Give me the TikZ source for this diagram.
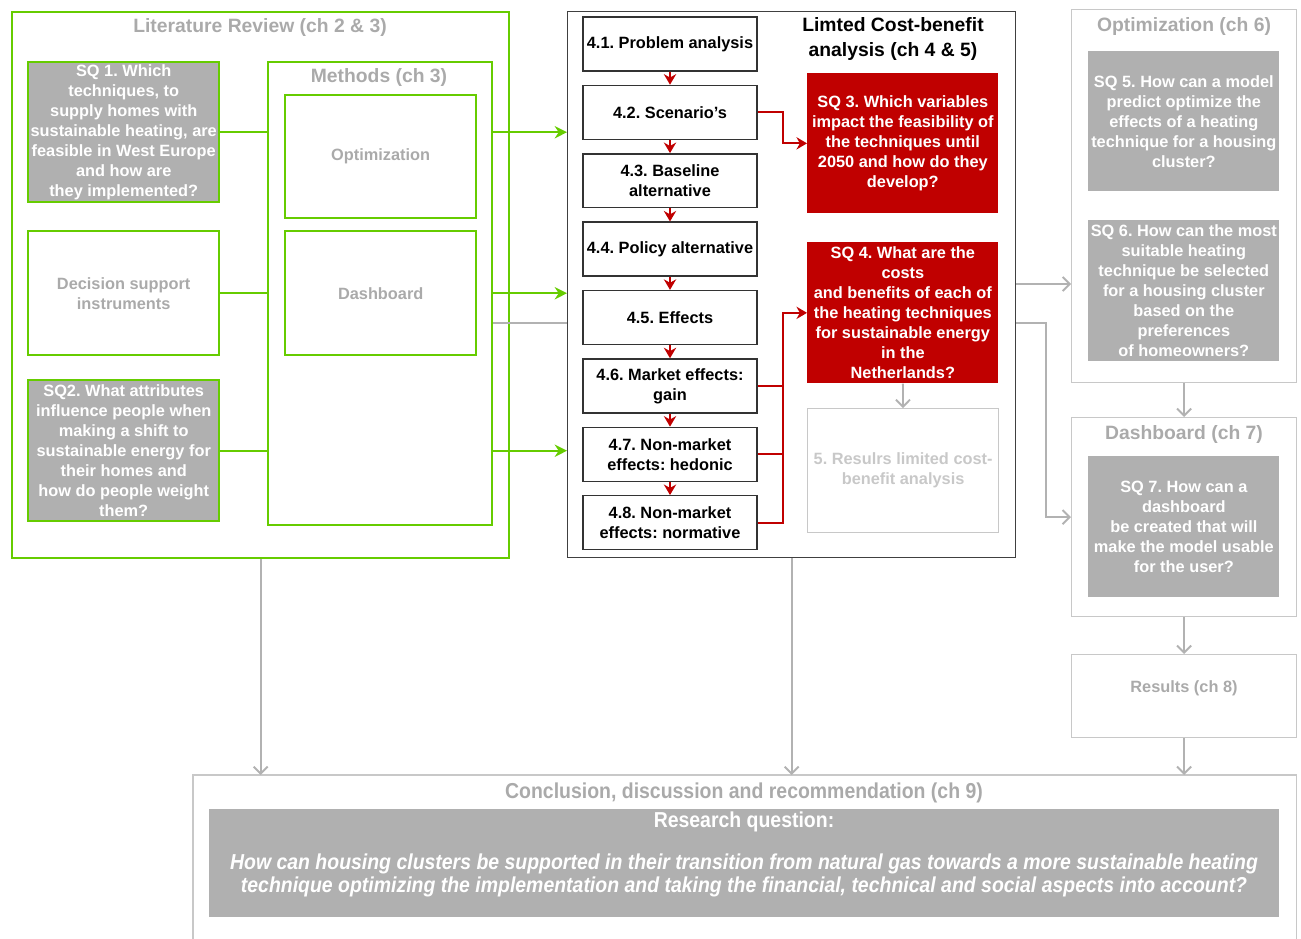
\documentclass[tikz,border=0pt]{standalone}
\usepackage{fontspec}
\setmainfont{Liberation Sans}
\newfontfamily\narrowsans[FakeStretch=0.9]{Liberation Sans}
\usetikzlibrary{arrows.meta,positioning}
\frenchspacing

\definecolor{litgreen}{RGB}{102,204,0}
\definecolor{sqgray}{RGB}{176,176,176}
\definecolor{titlegray}{RGB}{170,170,170}
\definecolor{faintgray}{RGB}{200,200,200}
\definecolor{framegray}{RGB}{200,200,200}
\definecolor{linegray}{RGB}{178,178,178}
\definecolor{cbared}{RGB}{192,0,0}
\definecolor{stepline}{RGB}{51,51,51}
\definecolor{cbaline}{RGB}{64,64,64}

\newcommand{\sqfont}{\fontsize{9.3}{11.4}\selectfont\bfseries}
\newcommand{\headfont}{\fontsize{11}{13.7}\selectfont\bfseries}
\newcommand{\rqfont}{\narrowsans\fontsize{12.3}{13}\selectfont\bfseries}

\begin{document}
\begin{tikzpicture}[
  x=0.02cm, y=-0.02cm,
  node distance=0.26cm,
  every node/.style={inner sep=1pt},
  greenframe/.style={draw=litgreen, line width=1.4pt, anchor=north west},
  grayframe/.style={draw=framegray, line width=0.7pt, anchor=north west},
  sqbox/.style={fill=sqgray, text=white, font=\sqfont, align=center, anchor=north west, minimum width=3.82cm},
  sqred/.style={fill=cbared, text=white, font=\sqfont, align=center, anchor=north west, minimum width=3.82cm},
  stepbox/.style={draw=stepline, line width=0.8pt, fill=white, font=\sqfont, align=center, minimum width=3.48cm, minimum height=1.08cm},
  head/.style={font=\headfont, text=titlegray, align=center},
  ghost/.style={font=\sqfont, text=titlegray, align=center},
  greenline/.style={draw=litgreen, line width=1.4pt},
  greenarrow/.style={greenline, -{Stealth[length=7pt,width=7pt]}},
  redline/.style={draw=cbared, line width=1.1pt},
  redarrow/.style={redline, -{Stealth[length=6pt,width=7pt]}},
  grayline/.style={draw=linegray, line width=1.1pt},
  grayarrow/.style={grayline, -{Straight Barb[length=4pt,width=8pt]}}
]
\useasboundingbox (0,0) rectangle (1301,938);

% literature review
\node[greenframe, minimum width=9.94cm, minimum height=10.92cm] (lit) at (11,11) {};
\node[head] at (260,27) {Literature Review (ch 2 \& 3)};
\node[sqbox, draw=litgreen, line width=1.4pt, minimum height=2.8cm] (sq1) at (27,61)
  {SQ 1. Which\\techniques, to\\supply homes with\\sustainable heating, are\\feasible in West Europe\\and how are\\they implemented?};
\node[greenframe, ghost, minimum width=3.82cm, minimum height=2.48cm] (dsi) at (27,230)
  {Decision support\\instruments};
\node[sqbox, draw=litgreen, line width=1.4pt, minimum height=2.82cm] (sq2) at (27,379)
  {SQ2. What attributes\\influence people when\\making a shift to\\sustainable energy for\\their homes and\\how do people weight\\them?};

% methods
\node[greenframe, minimum width=4.48cm, minimum height=9.26cm] (methods) at (267,61) {};
\node[head] at (379,77) {Methods (ch 3)};
\node[greenframe, ghost, minimum width=3.82cm, minimum height=2.46cm] (mopt) at (284,94) {Optimization};
\node[greenframe, ghost, minimum width=3.82cm, minimum height=2.48cm] (mdash) at (284,230) {Dashboard};

% cost-benefit analysis
\node[draw=cbaline, line width=0.8pt, anchor=north west, minimum width=8.96cm, minimum height=10.92cm] (cba) at (567,11) {};
\node[font=\headfont, align=center] at (893,39) {Limted Cost-benefit\\analysis (ch 4 \& 5)};

\node[stepbox] (s41) at (670,44) {4.1. Problem analysis};
\node[stepbox, below=of s41] (s42) {4.2. Scenario's};
\node[stepbox, below=of s42] (s43) {4.3. Baseline\\alternative};
\node[stepbox, below=of s43] (s44) {4.4. Policy alternative};
\node[stepbox, below=of s44] (s45) {4.5. Effects};
\node[stepbox, below=of s45] (s46) {4.6. Market effects:\\gain};
\node[stepbox, below=of s46] (s47) {4.7. Non-market\\effects: hedonic};
\node[stepbox, below=of s47] (s48) {4.8. Non-market\\effects: normative};

\node[sqred, minimum height=2.8cm] (sq3) at (807,73)
  {SQ 3. Which variables\\impact the feasibility of\\the techniques until\\2050 and how do they\\develop?};
\node[sqred, minimum height=2.82cm] (sq4) at (807,242)
  {SQ 4. What are the\\costs\\and benefits of each of\\the heating techniques\\for sustainable energy\\in the\\Netherlands?};
\node[grayframe, font=\sqfont, text=faintgray, align=center, minimum width=3.82cm, minimum height=2.48cm] (res5) at (807,408)
  {5. Resulrs limited cost-\\benefit analysis};

% optimization, dashboard, results
\node[grayframe, minimum width=4.5cm, minimum height=7.46cm] (optframe) at (1071,9) {};
\node[head] at (1184,26) {Optimization (ch 6)};
\node[sqbox, minimum height=2.8cm] (sq5) at (1088,51)
  {SQ 5. How can a model\\predict optimize the\\effects of a heating\\technique for a housing\\cluster?};
\node[sqbox, minimum height=2.82cm] (sq6) at (1088,220)
  {SQ 6. How can the most\\suitable heating\\technique be selected\\for a housing cluster\\based on the\\preferences\\of homeowners?};

\node[grayframe, minimum width=4.5cm, minimum height=3.98cm] (dashframe) at (1071,417) {};
\node[head] at (1184,434) {Dashboard (ch 7)};
\node[sqbox, minimum height=2.82cm] (sq7) at (1088,456)
  {SQ 7. How can a\\dashboard\\be created that will\\make the model usable\\for the user?};

\node[grayframe, minimum width=4.5cm, minimum height=1.66cm] (res8) at (1071,654) {};
\node[ghost] at (1184,688) {Results (ch 8)};

% conclusion
\node[anchor=north west, minimum width=22.06cm, minimum height=3.26cm] (concl) at (193,775) {};
\draw[draw=framegray, line width=0.7pt] (concl.south west) |- (concl.north east) -- (concl.south east);
\node[font=\rqfont, text=titlegray] at (744,793) {Conclusion, discussion and recommendation (ch 9)};
\node[fill=sqgray, anchor=north west, minimum width=21.4cm, minimum height=2.16cm] (rq) at (209,809) {};
\node[font=\rqfont, text=white] at (744,822) {Research question:};
\node[font=\rqfont\itshape, text=white, align=center] at (744,875)
  {How can housing clusters be supported in their transition from natural gas towards a more sustainable heating\\technique optimizing the implementation and taking the financial, technical and social aspects into account?};

% green connectors
\draw[greenline] (sq1.east) -- (sq1.east -| methods.west);
\draw[greenline] (dsi.east) -- (dsi.east -| methods.west);
\draw[greenline] (sq2.east) -- (sq2.east -| methods.west);
\draw[greenarrow] (sq1.east -| methods.east) -- (sq1.east -| cba.west);
\draw[greenarrow] (dsi.east -| methods.east) -- (dsi.east -| cba.west);
\draw[greenarrow] (sq2.east -| methods.east) -- (sq2.east -| cba.west);

% red connectors
\foreach \a/\b in {s41/s42,s42/s43,s43/s44,s44/s45,s45/s46,s46/s47,s47/s48}
  \draw[redarrow] (\a) -- (\b);
\draw[redarrow] (s42.east) -- ++(25,0) |- (sq3.west);
\draw[redline] (s46.east) -- ++(25,0);
\draw[redline] (s47.east) -- ++(25,0);
\draw[redarrow] (s48.east) -- ++(25,0) |- (sq4.west);

% gray connectors
\coordinate (gy) at (0,323);
\coordinate (oy) at (0,284);
\draw[grayline] (methods.east |- gy) -- (cba.west |- gy);
\draw[grayarrow] (cba.east |- oy) -- (optframe.west |- oy);
\draw[grayarrow] (cba.east |- gy) -- ++(30,0) |- (dashframe.west);
\draw[grayarrow] (sq4) -- (res5);
\draw[grayarrow] (optframe) -- (dashframe);
\draw[grayarrow] (dashframe) -- (res8);
\draw[grayarrow] (lit.south) -- (lit.south |- concl.north);
\draw[grayarrow] (cba.south) -- (cba.south |- concl.north);
\draw[grayarrow] (res8.south) -- (res8.south |- concl.north);

\end{tikzpicture}
\end{document}
